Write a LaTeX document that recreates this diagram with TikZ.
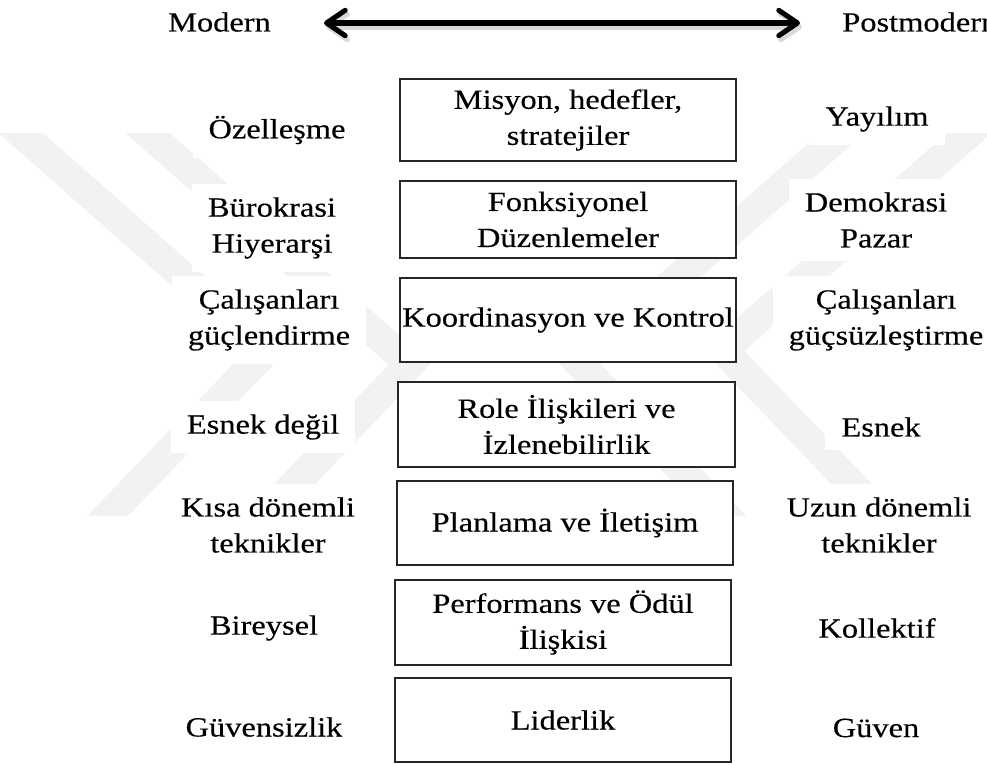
\documentclass[tikz,border=0pt]{standalone}
\usepackage{fontspec}
\setmainfont{Liberation Serif}[FakeStretch=1.17, FakeBold=0.35]
\usetikzlibrary{arrows.meta}
\begin{document}
\begin{tikzpicture}[x=0.75pt,y=-0.75pt,
  every node/.style={font=\fontsize{20.8}{27}\selectfont},
  wm/.style={line width=22pt, draw=black!5, line join=miter},
  lbl/.style={align=center, fill=white, inner xsep=12pt, inner ysep=10pt},
  stage/.style={draw=black!85, line width=1.15pt, fill=white, align=center, inner sep=0pt},
  axisarrow/.style={line width=3.8pt,
    {Straight Barb[length=14pt,width=19pt,round]}-{Straight Barb[length=14pt,width=19pt,round]}}
]
\clip (0,0) rectangle (987,764);
\fill[white] (0,0) rectangle (987,764);

% faint striped emblem in the background
\begin{scope}
  \clip (0,133) rectangle (987,515);
  \draw[wm] (-17,100) -- (267,350) -- (75,550);
  \draw[wm] (110,100) -- (410,364) -- (231,550);
  \draw[wm] (1007,100) -- (723,350) -- (915,550);
  \draw[wm] (880,100) -- (580,364) -- (759,550);
\end{scope}

% axis between the two poles
\node (modern) at (219.5,22) {Modern};
\node[anchor=west, inner sep=0pt] (postmodern) at (842,22) {Postmodern};
\coordinate (aL) at (324,23);
\coordinate (aR) at (800,23);
\draw[axisarrow, draw=black!15] ([shift={(2,4)}]aL) -- ([shift={(2,4)}]aR);
\draw[axisarrow] (aL) -- (aR);

% modern side
\node[lbl] (l1) at (277,130) {Özelleşme};
\node[lbl] (l2) at (272,228) {Bürokrasi\\Hiyerarşi};
\node[lbl] (l3) at (269,320) {Çalışanları\\güçlendirme};
\node[lbl] (l4) at (263,427) {Esnek değil};
\node[lbl] (l5) at (268,525) {Kısa dönemli\\teknikler};
\node[lbl] (l6) at (264,628) {Bireysel};
\node[lbl] (l7) at (264,727) {Güvensizlik};

% postmodern side
\node[lbl] (r1) at (877,119) {Yayılım};
\node[lbl] (r2) at (876,220) {Demokrasi\\Pazar};
\node[lbl] (r3) at (886,320) {Çalışanları\\güçsüzleştirme};
\node[lbl] (r4) at (881,427) {Esnek};
\node[lbl] (r5) at (879,525) {Uzun dönemli\\teknikler};
\node[lbl] (r6) at (877,628) {Kollektif};
\node[lbl] (r7) at (876,728) {Güven};

% organisational dimensions
\node[stage, minimum width=252pt, minimum height=61.5pt] (s1) at (568,120) {Misyon, hedefler,\\stratejiler};
\node[stage, minimum width=252pt, minimum height=57.75pt] (s2) at (568,219.5) {Fonksiyonel\\Düzenlemeler};
\node[stage, minimum width=252pt, minimum height=63pt] (s3) at (568,320) {Koordinasyon ve Kontrol};
\node[stage, minimum width=252.75pt, minimum height=63.75pt] (s4) at (566.5,424.5) {Role İlişkileri ve\\İzlenebilirlik};
\node[stage, minimum width=252pt, minimum height=63pt] (s5) at (565,523) {Planlama ve İletişim};
\node[stage, minimum width=252pt, minimum height=63.75pt] (s6) at (563,622.5) {Performans ve Ödül\\İlişkisi};
\node[stage, minimum width=252pt, minimum height=63pt] (s7) at (563,720) {Liderlik};
\end{tikzpicture}
\end{document}
